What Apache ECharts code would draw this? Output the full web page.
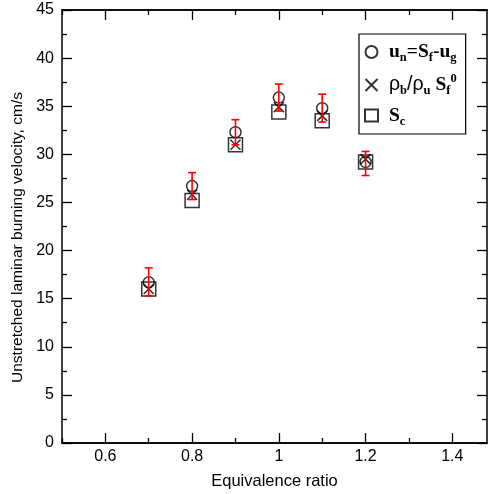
<!DOCTYPE html>
<html><head><meta charset="utf-8">
<script src="https://cdn.jsdelivr.net/npm/echarts@6/dist/echarts.min.js"></script>
<style>html,body{margin:0;padding:0;background:#fff}#c{width:489px;height:494px}</style>
</head><body><div id="c"></div>
<script>
var phi = [0.7, 0.8, 0.9, 1.0, 1.1, 1.2];
var unVals = [16.7, 26.7, 32.3, 35.9, 34.8, 29.2];
var rhoVals = [16.0, 25.8, 31.0, 34.9, 34.0, 29.5];
var scVals = [16.0, 25.2, 31.0, 34.4, 33.5, 29.2];
var errLow = [15.3, 25.3, 31.0, 34.5, 33.35, 27.8];
var errHigh = [18.2, 28.1, 33.6, 37.3, 36.25, 30.3];
var xMajor = [0.6, 0.8, 1.0, 1.2, 1.4];
var xMinor = [0.5, 0.7, 0.9, 1.1, 1.3];
var xMin = 0.5, xMax = 1.48, yMin = 0, yMax = 45, yStep = 5;
var xTitle = 'Equivalence ratio';
var yTitle = 'Unstretched laminar burning velocity, cm/s';

function pairs(xs, ys){ return xs.map(function(x,i){ return [x, ys[i]]; }); }
var font = 'Liberation Sans, Arial, sans-serif';
var serif = 'Liberation Serif, Times New Roman, serif';
var crossPath = 'path://M0,0L10,10M10,0L0,10';

function xAxisDef(pos, ticks, len, labels, extra){
  var o = {
    type:'value', position:pos, min:xMin, max:xMax, gridIndex:0,
    axisLine:{show:true, onZero:false, lineStyle:{color:'#000', width:1.5}},
    axisTick:{show:true, inside:true, length:len, customValues:ticks, lineStyle:{color:'#000', width:1.3}},
    axisLabel:{show:labels, customValues:ticks, color:'#000', fontFamily:font, fontSize:16, margin:6},
    splitLine:{show:false}
  };
  for (var k in extra) o[k] = extra[k];
  return o;
}
function yAxisDef(pos, labels, extra){
  var o = {
    type:'value', position:pos, min:yMin, max:yMax, interval:yStep,
    axisLine:{show:true, onZero:false, lineStyle:{color:'#000', width:1.5}},
    axisTick:{show:true, inside:true, length:10, lineStyle:{color:'#000', width:1.3}},
    minorTick:{show:true, splitNumber:2, length:5, lineStyle:{color:'#000', width:1.3}},
    axisLabel:{show:labels, color:'#000', fontFamily:font, fontSize:16, margin:8},
    splitLine:{show:false}, minorSplitLine:{show:false}
  };
  for (var k in extra) o[k] = extra[k];
  return o;
}

var nameMap = {
  un: '{b|u}{bs|n}{b|=S}{bs|f}{b|-u}{bs|g}',
  rho: '{r|ρ}{bs|b}{r|/ρ}{bs|u}{b| S}{bs|f}{sup|0}',
  sc: '{b|S}{bs|c}'
};

var chart = echarts.init(document.getElementById('c'), null, {renderer:'canvas'});
chart.setOption({
  animation:false,
  backgroundColor:'#fff',
  grid:{left:62, right:2, top:10, bottom:51, containLabel:false, outerBoundsMode:'none'},
  xAxis:[
    xAxisDef('bottom', xMajor, 10, true, {name:xTitle, nameLocation:'middle', nameGap:30, nameTextStyle:{color:'#000', fontFamily:font, fontSize:16.5}}),
    xAxisDef('bottom', xMinor, 5, false, {}),
    xAxisDef('top', xMajor, 10, false, {}),
    xAxisDef('top', xMinor, 5, false, {})
  ],
  yAxis:[
    yAxisDef('left', true, {name:yTitle, nameLocation:'middle', nameGap:35, nameTextStyle:{color:'#000', fontFamily:font, fontSize:15.5, padding:[0,22,0,0]}}),
    yAxisDef('right', false, {})
  ],
  legend:{
    data:['un','rho','sc'], orient:'vertical', left:359, top:34,
    borderColor:'#000', borderWidth:1.2, padding:[8,9,6,5], itemGap:8,
    itemWidth:13, itemHeight:12, selectedMode:false,
    formatter:function(n){ return nameMap[n]; },
    textStyle:{
      color:'#000', fontFamily:serif, fontSize:18, padding:[0,0,0,6],
      rich:{
        b:{fontFamily:serif, fontWeight:'bold', fontSize:19.5, lineHeight:25, verticalAlign:'middle'},
        r:{fontFamily:font, fontWeight:'normal', fontSize:19.5, lineHeight:25, verticalAlign:'middle'},
        bs:{fontFamily:serif, fontWeight:'bold', fontSize:12.5, lineHeight:11, verticalAlign:'bottom'},
        sup:{fontFamily:serif, fontWeight:'bold', fontSize:12.5, lineHeight:11, verticalAlign:'top'}
      }
    }
  },
  series:[
    {name:'un', type:'scatter', symbol:'circle', symbolSize:11, data:pairs(phi, unVals),
     itemStyle:{color:'rgba(0,0,0,0)', borderColor:'#000', borderWidth:1.5}},
    {name:'rho', type:'scatter', symbol:crossPath, symbolSize:10, data:pairs(phi, rhoVals),
     itemStyle:{color:'rgba(0,0,0,0)', borderColor:'#000', borderWidth:1.6}},
    {name:'sc', type:'scatter', symbol:'rect', symbolSize:14, data:pairs(phi, scVals),
     itemStyle:{color:'rgba(0,0,0,0)', borderColor:'#000', borderWidth:1.5}},
    {name:'err', type:'custom', data:phi.map(function(x,i){ return [x, errLow[i], errHigh[i]]; }),
     renderItem:function(params, api){
       var lo = api.coord([api.value(0), api.value(1)]);
       var hi = api.coord([api.value(0), api.value(2)]);
       var w = 4;
       var st = {stroke:'#f00', lineWidth:1.6};
       return {type:'group', children:[
         {type:'line', shape:{x1:lo[0], y1:lo[1], x2:hi[0], y2:hi[1]}, style:st},
         {type:'line', shape:{x1:lo[0]-w, y1:lo[1], x2:lo[0]+w, y2:lo[1]}, style:st},
         {type:'line', shape:{x1:hi[0]-w, y1:hi[1], x2:hi[0]+w, y2:hi[1]}, style:st}
       ]};
     }, z:5}
  ]
});
</script></body></html>
